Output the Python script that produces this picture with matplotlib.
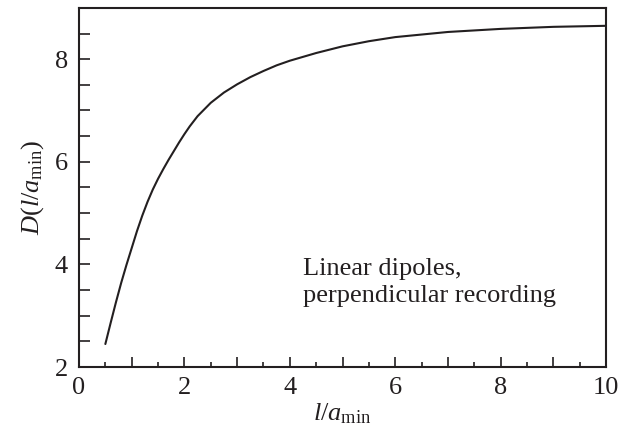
import numpy as np
import matplotlib.pyplot as plt
from matplotlib.ticker import MultipleLocator, FuncFormatter

# data
l_over_a = [0.5, 0.6, 0.7, 0.8, 0.9, 1.0, 1.1, 1.2, 1.3, 1.4, 1.5, 1.6, 1.7, 1.8, 1.9,
            2.0, 2.1, 2.25, 2.5, 2.75, 3.0, 3.25, 3.5, 3.75, 4.0, 4.5, 5.0, 5.5,
            6.0, 7.0, 8.0, 9.0, 10.0]
D_vals = [2.45, 2.86, 3.26, 3.64, 3.99, 4.32, 4.65, 4.95, 5.22, 5.46, 5.67, 5.86, 6.04, 6.21, 6.38,
          6.54, 6.69, 6.89, 7.15, 7.35, 7.51, 7.65, 7.77, 7.88, 7.97, 8.12, 8.25, 8.35,
          8.43, 8.53, 8.59, 8.63, 8.65]
note_lines = ["Linear dipoles,", "perpendicular recording"]

plt.rcParams['font.family'] = ['Liberation Serif', 'DejaVu Serif']
plt.rcParams['mathtext.fontset'] = 'custom'
plt.rcParams['mathtext.rm'] = 'Liberation Serif'
plt.rcParams['mathtext.it'] = 'Liberation Serif:italic'

ink = '#231f20'

fig = plt.figure(figsize=(6.32, 4.36), dpi=100)
ax = fig.add_axes([0.125, 0.158, 0.834, 0.824])

ax.plot(l_over_a, D_vals, color=ink, lw=1.5, solid_joinstyle='round', solid_capstyle='round')

ax.set_xlim(0, 10)
ax.set_ylim(2, 9)

ax.xaxis.set_major_locator(MultipleLocator(1))
ax.xaxis.set_minor_locator(MultipleLocator(0.5))
ax.xaxis.set_major_formatter(FuncFormatter(lambda v, p: f"{v:g}" if int(round(v)) % 2 == 0 else ""))
ax.yaxis.set_major_locator(MultipleLocator(0.5))
ax.yaxis.set_major_formatter(FuncFormatter(lambda v, p: f"{v:g}" if abs(v - round(v)) < 1e-6 and int(round(v)) % 2 == 0 else ""))

ax.tick_params(axis='both', which='both', direction='in', colors=ink, labelsize=19, width=1.2)
ax.tick_params(axis='x', which='major', length=7.2, pad=7)
ax.tick_params(axis='x', which='minor', length=3.6)
ax.tick_params(axis='y', which='major', length=8, pad=8)

for s in ax.spines.values():
    s.set_linewidth(1.5)
    s.set_color(ink)

ax.set_xlabel(r'$l/a_{\mathrm{min}}$', fontsize=19, color=ink, labelpad=2)
ax.set_ylabel(r'$D(l/a_{\mathrm{min}})$', fontsize=19, color=ink, labelpad=6)

ax.text(4.25, 3.79, note_lines[0], fontsize=19, color=ink, va='baseline')
ax.text(4.25, 3.27, note_lines[1], fontsize=19, color=ink, va='baseline')

fig.savefig('out.png', dpi=100)
